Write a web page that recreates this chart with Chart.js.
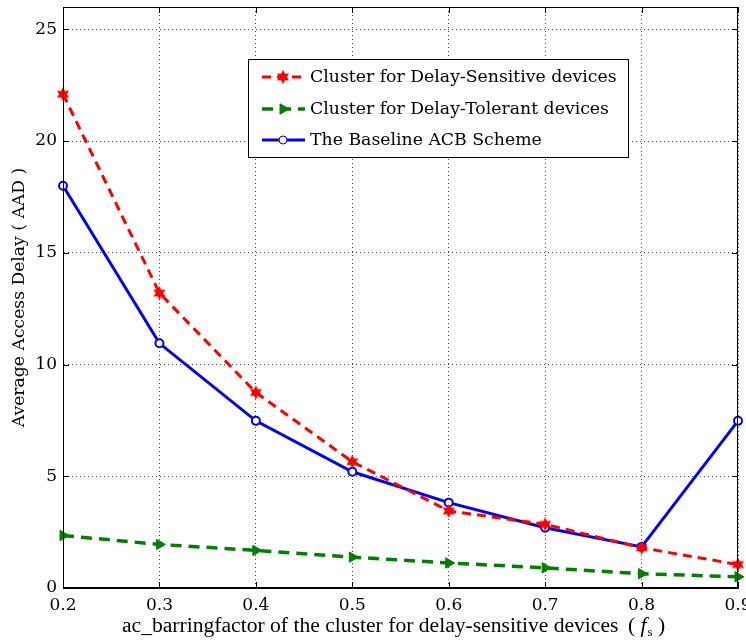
<!DOCTYPE html>
<html>
<head>
<meta charset="utf-8">
<script src="https://cdn.jsdelivr.net/npm/chart.js@4.4.1/dist/chart.umd.min.js"></script>
<style>
  html, body { margin: 0; padding: 0; background: #fff; }
  #wrap { width: 746px; height: 641px; }
</style>
</head>
<body>
<div id="wrap"><canvas id="grafico" width="746" height="641"></canvas></div>
<script>
// valores
const barringFactor = [0.2, 0.3, 0.4, 0.5, 0.6, 0.7, 0.8, 0.9];
const delaySensitive = [22.1, 13.2, 8.75, 5.65, 3.45, 2.85, 1.8, 1.05];
const delayTolerant = [2.35, 1.95, 1.68, 1.38, 1.12, 0.9, 0.64, 0.5];
const baselineACB = [18.0, 10.95, 7.48, 5.2, 3.82, 2.7, 1.84, 7.48];
const xTicks = [0.2, 0.3, 0.4, 0.5, 0.6, 0.7, 0.8, 0.9];
const yTicks = [0, 5, 10, 15, 20, 25];

const serif = '"DejaVu Serif", serif';

// acha o tamanho de fonte que dá a largura pedida
function ajustaFonte(texto, familia, peso, largura) {
  const g = document.createElement('canvas').getContext('2d');
  g.font = peso + ' 20px ' + familia;
  const w = g.measureText(texto).width;
  return Math.round(20 * largura / w * 10) / 10;
}

// estrela de 6 pontas preenchida (marcador vermelho)
function estrela(tam, cor) {
  const c = document.createElement('canvas');
  c.width = tam; c.height = tam;
  const g = c.getContext('2d');
  const r1 = tam / 2, r2 = tam / 3.6;
  g.beginPath();
  for (let i = 0; i < 12; i++) {
    const r = i % 2 === 0 ? r1 : r2;
    const a = -Math.PI / 2 + i * Math.PI / 6;
    const px = tam / 2 + r * Math.cos(a), py = tam / 2 + r * Math.sin(a);
    if (i === 0) g.moveTo(px, py); else g.lineTo(px, py);
  }
  g.closePath();
  g.fillStyle = cor;
  g.fill();
  return c;
}
const marcaVermelha = estrela(14, '#ff0000');

function pontos(ys) {
  return barringFactor.map((x, i) => ({ x: x, y: ys[i] }));
}

// moldura com marcas para dentro
const moldura = {
  id: 'moldura',
  afterDraw(chart) {
    const { ctx, chartArea: a, scales } = chart;
    ctx.save();
    ctx.strokeStyle = '#000';
    ctx.lineWidth = 1;
    ctx.strokeRect(a.left + 0.5, a.top + 0.5, a.right - a.left - 1, a.bottom - a.top - 1);
    ctx.beginPath();
    xTicks.forEach(v => {
      const px = Math.round(scales.x.getPixelForValue(v)) + 0.5;
      ctx.moveTo(px, a.bottom); ctx.lineTo(px, a.bottom - 6);
      ctx.moveTo(px, a.top); ctx.lineTo(px, a.top + 6);
    });
    yTicks.forEach(v => {
      const py = Math.round(scales.y.getPixelForValue(v)) + 0.5;
      ctx.moveTo(a.left, py); ctx.lineTo(a.left + 6, py);
      ctx.moveTo(a.right, py); ctx.lineTo(a.right - 6, py);
    });
    ctx.stroke();
    ctx.restore();
  }
};

// legenda dentro da área do gráfico
const tamLegenda = ajustaFonte('Cluster for Delay-Sensitive devices', serif, 'normal', 307);
const legendaInterna = {
  id: 'legendaInterna',
  afterDraw(chart) {
    const ctx = chart.ctx;
    const box = { x: 248, y: 59, w: 380, h: 98 };
    const linhas = [77, 109, 140];
    ctx.save();
    ctx.fillStyle = '#fff';
    ctx.fillRect(box.x, box.y, box.w, box.h);
    ctx.strokeStyle = '#000';
    ctx.lineWidth = 1;
    ctx.strokeRect(box.x + 0.5, box.y + 0.5, box.w, box.h);
    chart.data.datasets.forEach((ds, i) => {
      const y = linhas[i];
      ctx.save();
      ctx.strokeStyle = ds.borderColor;
      ctx.lineWidth = ds.borderWidth;
      ctx.setLineDash(ds.borderDash || []);
      ctx.beginPath();
      ctx.moveTo(262, y); ctx.lineTo(305, y);
      ctx.stroke();
      ctx.restore();
      ctx.save();
      ctx.fillStyle = ds.pointBackgroundColor;
      ctx.strokeStyle = ds.borderColor;
      Chart.helpers.drawPoint(ctx, {
        pointStyle: ds.pointStyle,
        rotation: ds.pointRotation || 0,
        radius: ds.pointRadius,
        borderWidth: ds.pointBorderWidth
      }, 283, y);
      ctx.restore();
      ctx.fillStyle = '#000';
      ctx.font = tamLegenda + 'px ' + serif;
      ctx.textBaseline = 'middle';
      ctx.fillText(ds.label, 310, y + 1);
    });
    ctx.restore();
  }
};

// título do eixo x com f em itálico e índice s
const textoX = 'ac_barringfactor of the cluster for delay-sensitive devices';
const familiaX = '"Liberation Serif", serif';
const tamX = ajustaFonte(textoX, familiaX, 'normal', 497);
const tituloX = {
  id: 'tituloX',
  afterDraw(chart) {
    const ctx = chart.ctx;
    const y = 626;
    ctx.save();
    ctx.fillStyle = '#000';
    ctx.textBaseline = 'middle';
    const f1 = tamX + 'px ' + familiaX;
    const f2 = 'italic ' + tamX + 'px ' + familiaX;
    const f3 = Math.round(tamX * 0.6) + 'px ' + familiaX;
    let x = 122;
    ctx.font = f1; ctx.fillText(textoX, x, y);
    x = 628;
    ctx.fillText('(', x, y); x += ctx.measureText('( ').width;
    ctx.font = f2; ctx.fillText('f', x, y); x += ctx.measureText('f').width + 1;
    ctx.font = f3; ctx.fillText('s', x, y + 7); x += ctx.measureText('s').width;
    ctx.font = f1; ctx.fillText(' )', x, y);
    ctx.restore();
  }
};

const tamTituloY = ajustaFonte('Average Access Delay ( AAD )', serif, 'normal', 260);

const ctx = document.getElementById('grafico').getContext('2d');
new Chart(ctx, {
  type: 'line',
  data: {
    datasets: [{
      label: 'Cluster for Delay-Sensitive devices',
      data: pontos(delaySensitive),
      borderColor: '#ff0000',
      borderWidth: 3,
      borderDash: [9, 6],
      pointStyle: marcaVermelha,
      pointRadius: 7,
      pointBorderWidth: 0,
      pointBackgroundColor: '#ff0000',
      tension: 0
    }, {
      label: 'Cluster for Delay-Tolerant devices',
      data: pontos(delayTolerant),
      borderColor: '#008000',
      borderWidth: 3.5,
      borderDash: [11, 7],
      pointStyle: 'triangle',
      pointRotation: 90,
      pointRadius: 6,
      pointBorderWidth: 1,
      pointBackgroundColor: '#008000',
      tension: 0
    }, {
      label: 'The Baseline ACB Scheme',
      data: pontos(baselineACB),
      borderColor: '#0000ff',
      borderWidth: 3,
      pointStyle: 'circle',
      pointRadius: 4,
      pointBorderWidth: 2,
      pointBackgroundColor: '#ffffff',
      tension: 0
    }]
  },
  options: {
    responsive: false,
    animation: false,
    clip: false,
    layout: { padding: { top: 0, right: 8, left: 0, bottom: 0 } },
    plugins: {
      legend: { display: false },
      tooltip: { enabled: false }
    },
    scales: {
      x: {
        type: 'linear',
        min: 0.2,
        max: 0.9,
        afterBuildTicks: s => { s.ticks = xTicks.map(v => ({ value: v })); },
        afterFit: s => { s.height = 53; s.paddingLeft = 0; s.paddingRight = 0; },
        ticks: {
          padding: 7,
          maxRotation: 0,
          color: '#000',
          font: { family: serif, size: 17 },
          callback: v => v.toFixed(1)
        },
        grid: { color: '#444', drawTicks: false, lineWidth: 1 },
        border: { display: true, color: '#000', dash: [1, 3] }
      },
      y: {
        min: 0,
        max: 26,
        afterBuildTicks: s => { s.ticks = yTicks.map(v => ({ value: v })); },
        afterFit: s => { s.width = 63; s.paddingTop = 0; s.paddingBottom = 0; },
        ticks: {
          padding: 6,
          color: '#000',
          font: { family: serif, size: 17 }
        },
        grid: { color: '#444', drawTicks: false, lineWidth: 1 },
        border: { display: true, color: '#000', dash: [1, 3] },
        title: {
          display: true,
          text: 'Average Access Delay ( AAD )',
          color: '#000',
          font: { family: serif, size: tamTituloY },
          padding: { top: 9, bottom: 0 }
        }
      }
    }
  },
  plugins: [moldura, legendaInterna, tituloX]
});
</script>
</body>
</html>
